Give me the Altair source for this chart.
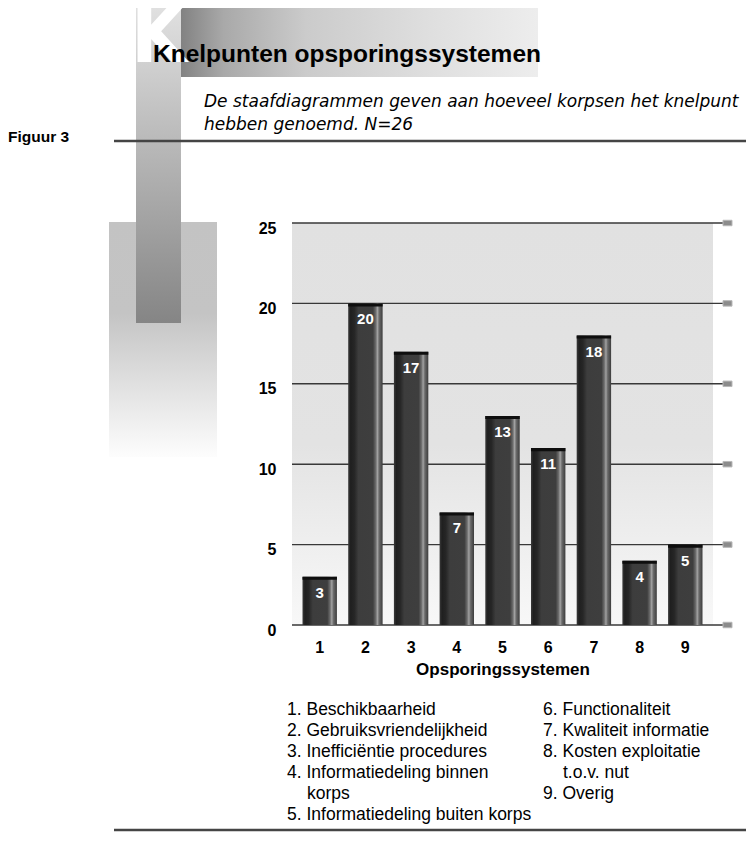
import altair as alt
import pandas as pd

# ---- data ----
categories = ["1", "2", "3", "4", "5", "6", "7", "8", "9"]
values = [3, 20, 17, 7, 13, 11, 18, 4, 5]
y_ticks = [0, 5, 10, 15, 20, 25]
legend_left = [
    "1. Beschikbaarheid",
    "2. Gebruiksvriendelijkheid",
    "3. Inefficiëntie procedures",
    "4. Informatiedeling binnen\nkorps",
    "5. Informatiedeling buiten korps",
]
legend_right = [
    "6. Functionaliteit",
    "7. Kwaliteit informatie",
    "8. Kosten exploitatie\nt.o.v. nut",
    "9. Overig",
]
title_text = "Knelpunten opsporingssystemen"
subtitle_lines = [
    "De staafdiagrammen geven aan hoeveel korpsen het knelpunt",
    "hebben genoemd. N=26",
]
figure_label = "Figuur 3"
big_letter = "K"
x_title = "Opsporingssystemen"

# ---- layout ----
W, H = 432, 402
BAND = 421
FONT = "Liberation Sans"

bars_df = pd.DataFrame({"cat": categories, "value": values})
grid_df = pd.DataFrame({"v": y_ticks})
one = pd.DataFrame({"k": [0]})


def grad(stops, horizontal=False):
    return alt.Gradient(
        gradient="linear",
        x1=0, y1=0,
        x2=1 if horizontal else 0,
        y2=0 if horizontal else 1,
        stops=[alt.GradientStop(offset=o, color=c) for o, c in stops],
    )


def rect(x, x2, y, y2, fill):
    return alt.Chart(one).mark_rect(color=fill, strokeWidth=0).encode(
        x=alt.value(x), x2=alt.value(x2), y=alt.value(y), y2=alt.value(y2)
    )


def text(t, x, y, size, weight="normal", style="normal", color="black", font=FONT):
    return alt.Chart(one).mark_text(
        text=t, font=font, fontSize=size, fontWeight=weight, fontStyle=style,
        color=color, align="left", baseline="alphabetic"
    ).encode(x=alt.value(x), y=alt.value(y))


def hrule(x, x2, y, color="#454545", width=2.5):
    return alt.Chart(one).mark_rule(color=color, strokeWidth=width).encode(
        x=alt.value(x), x2=alt.value(x2), y=alt.value(y)
    )


layers = []
# decorative blocks
layers.append(rect(-183, -75, -1, 234, grad([(0, "#c3c3c3"), (0.39, "#c4c4c4"), (1, "#fdfdfd")])))
layers.append(rect(-156, -111, -215, 100, grad([(0, "#e0e0e0"), (1, "#858585")])))
layers.append(rect(-111, 246, -215, -146, grad([(0, "#828282"), (0.12, "#a9a9a9"), (0.35, "#cbcbcb"), (0.7, "#dfdfdf"), (1, "#ededed")], horizontal=True)))
layers.append(text(big_letter, -161, -161, 80, weight="bold", color="white",
                   font='"Liberation Sans Narrow", "DejaVu Sans Condensed", sans-serif'))
layers.append(text(title_text, -139, -161, 24.5, weight="bold"))
for i, line in enumerate(subtitle_lines):
    layers.append(text(line, -88, -116 + 23 * i, 17, style="italic", font="DejaVu Sans"))
layers.append(text(figure_label, -284, -81.5, 15.5, weight="bold"))
layers.append(hrule(-178, 454, -82))
layers.append(hrule(-178, 454, 607))

# plot background
layers.append(rect(0, BAND, 0, H, grad([(0, "#e1e1e1"), (0.55, "#e3e3e3"), (1, "#f8f8f8")])))

yscale = alt.Scale(domain=[0, 25], nice=False)
xscale = alt.Scale(domain=categories, range=[0, BAND], paddingInner=0.247, paddingOuter=0.23)

grid = alt.Chart(grid_df).mark_rule(color="#383838", strokeWidth=1.4).encode(
    x=alt.value(0), x2=alt.value(431.5),
    y=alt.Y("v:Q", scale=yscale, axis=None),
)
layers.append(grid)
squares = alt.Chart(grid_df).transform_calculate(
    lo="datum.v - 0.17", hi="datum.v + 0.17"
).mark_rect(color="#8c8c8c", stroke="#b8b8b8", strokeWidth=1).encode(
    x=alt.value(431), x2=alt.value(440),
    y=alt.Y("lo:Q", scale=yscale, axis=None), y2="hi:Q",
)
layers.append(squares)

bar_grad = grad([
    (0, "#3a3a3a"), (0.07, "#1f1f1f"), (0.18, "#262626"), (0.3, "#3d3d3d"),
    (0.72, "#3e3e3e"), (0.8, "#6c6c6c"), (0.85, "#a2a2a2"), (0.9, "#6a6a6a"),
    (1, "#3c3c3c"),
], horizontal=True)

base = alt.Chart(bars_df)
bars = base.mark_bar(color=bar_grad).encode(
    x=alt.X("cat:N", scale=xscale, sort=categories, axis=alt.Axis(
        labelAngle=0, domain=False, ticks=False, tickSize=0, labelPadding=27.5,
        labelBaseline="alphabetic", labelFontSize=16, labelFontWeight="bold",
        labelColor="black", labelFont=FONT, title=x_title, titleFont=FONT,
        titleFontSize=17, titleFontWeight="bold", titleColor="black",
        titleY=49, titleBaseline="alphabetic")),
    y=alt.Y("value:Q", scale=yscale, axis=alt.Axis(
        values=y_ticks, grid=False, domain=False, ticks=False, tickSize=0,
        labelPadding=16, labelFontSize=16, labelFontWeight="bold",
        labelColor="black", labelFont=FONT, labelBaseline="alphabetic",
        labelOffset=10, title=None)),
)
layers.append(bars)
caps = base.transform_calculate(cap="datum.value - 0.19").mark_bar(color="#0e0e0e").encode(
    x=alt.X("cat:N", scale=xscale, sort=categories, axis=None),
    y=alt.Y("value:Q", scale=yscale, axis=None), y2="cap:Q",
)
layers.append(caps)
labels = base.mark_text(dy=16, baseline="middle", color="white", fontWeight="bold",
                        fontSize=15, font=FONT).encode(
    x=alt.X("cat:N", scale=xscale, sort=categories, axis=None),
    y=alt.Y("value:Q", scale=yscale, axis=None),
    text="value:Q",
)
layers.append(labels)

# legend text
for col, (entries, x0) in enumerate([(legend_left, -5), (legend_right, 251)]):
    line = 0
    for entry in entries:
        parts = entry.split("\n")
        for j, p in enumerate(parts):
            layers.append(text(p, x0 + (20 if j > 0 else 0), 492 + 21 * line, 17.5))
            line += 1

chart = alt.layer(*layers).resolve_axis(x="independent", y="independent").properties(
    width=W, height=H,
    padding={"left": 284, "top": 215, "right": 22, "bottom": 209},
    autosize=alt.AutoSizeParams(type="none"),
    background="white",
).configure_view(stroke=None)

chart.save("out.html", embed_options={"renderer": "svg", "actions": False})
